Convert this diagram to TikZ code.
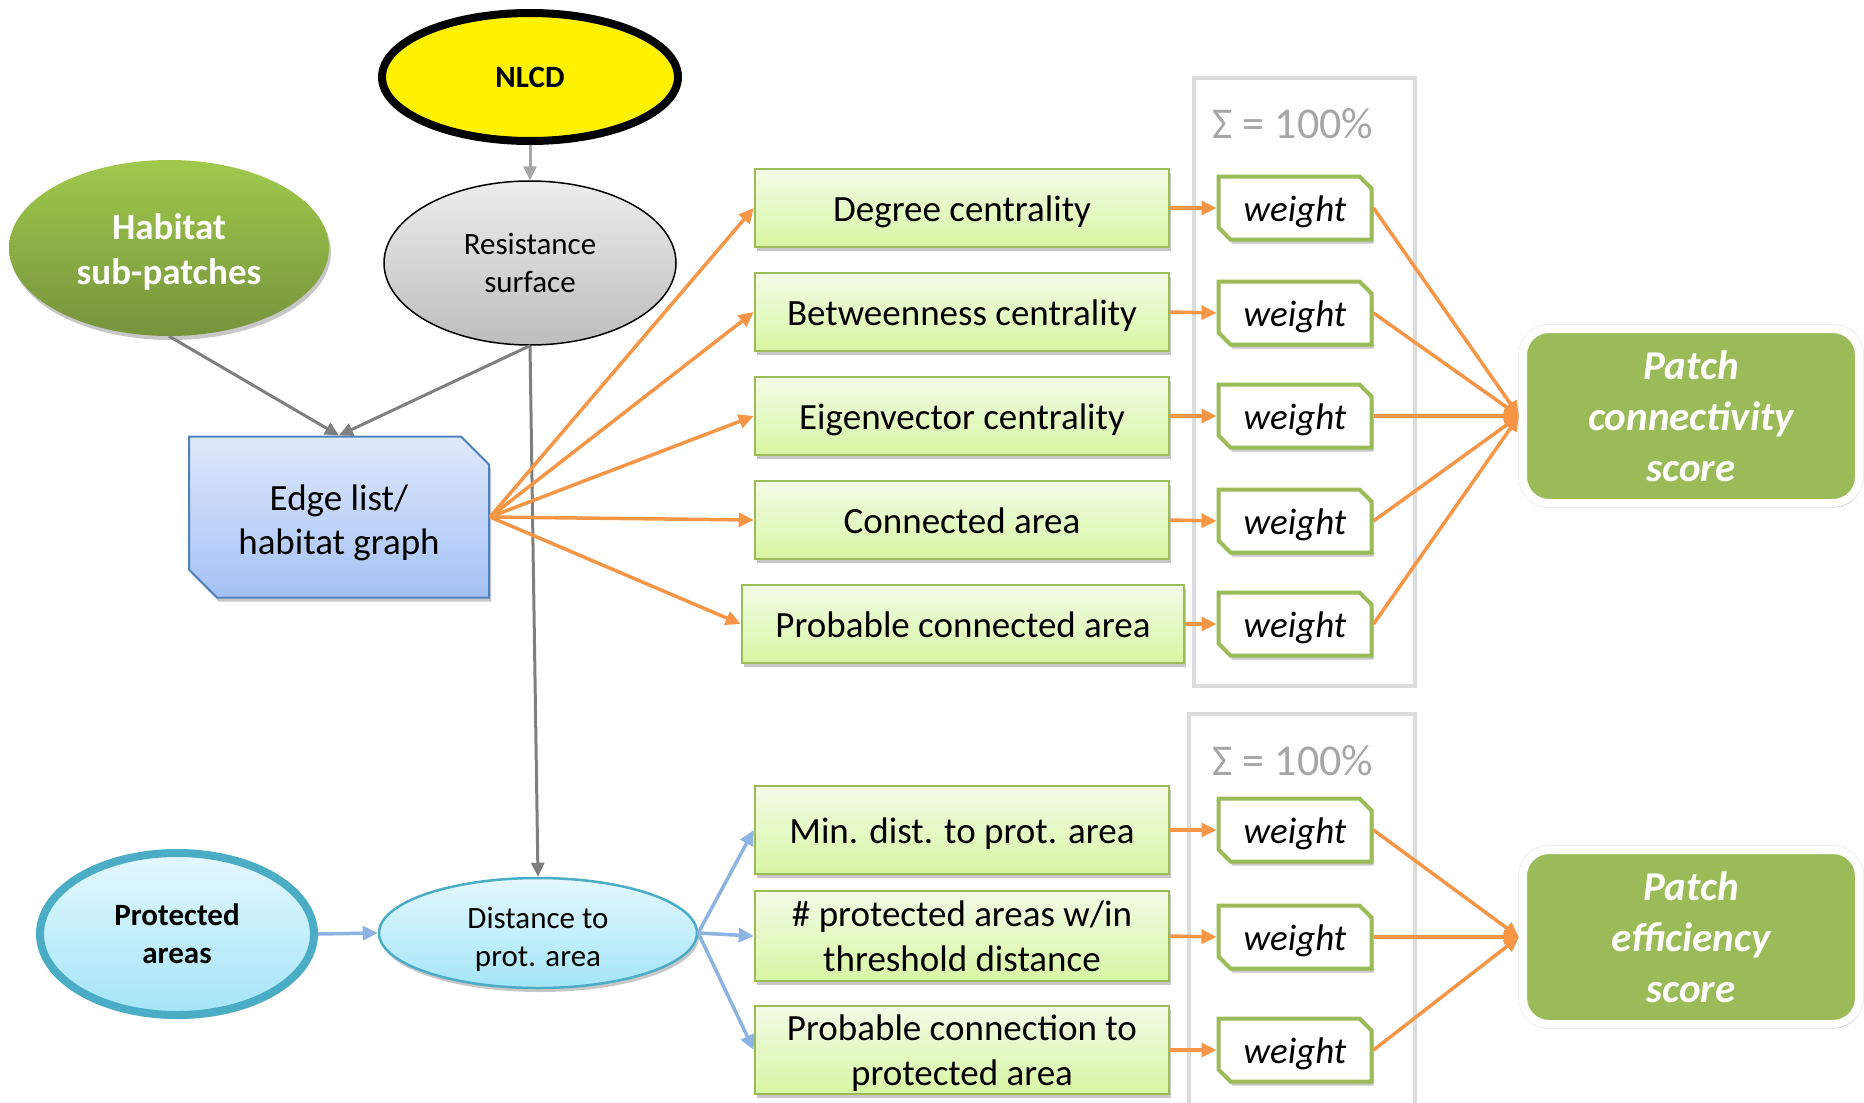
\documentclass[tikz,border=0pt]{standalone}
\usepackage{fontspec}
\setmainfont{Carlito}
\usetikzlibrary{shapes.geometric,shapes.misc,arrows.meta,shadows}

\definecolor{ogreen}{HTML}{9BBB59}
\definecolor{oorange}{HTML}{F79646}
\definecolor{ogray}{HTML}{7F7F7F}
\definecolor{oblue}{HTML}{8DB3E2}
\definecolor{oteal}{HTML}{4BACC6}
\definecolor{oedge}{HTML}{4F81BD}
\definecolor{framegray}{HTML}{DCDCDC}
\definecolor{sigmagray}{HTML}{A6A6A6}
\definecolor{metrictop}{HTML}{F2FBE6}
\definecolor{metricbot}{HTML}{D8F6A4}
\definecolor{edgetop}{HTML}{DFE9FB}
\definecolor{edgebot}{HTML}{A4C1F5}
\definecolor{cyantop}{HTML}{E4F8FE}
\definecolor{cyanbot}{HTML}{A4E5F8}
\definecolor{greytop}{HTML}{EDEDED}
\definecolor{greybot}{HTML}{BDBDBD}
\definecolor{habtop}{HTML}{A0C94C}
\definecolor{habbot}{HTML}{76933C}

% invisible strut that pushes the first text line down a little
\newcommand\firstlinestrut[1]{\rule{0pt}{#1}}

\tikzset{
  softshadow/.style={drop shadow={shadow xshift=2pt, shadow yshift=-4pt, opacity=0.22, fill=black}},
  oneline/.style={text height=30pt, text depth=2.5pt},
  frame/.style={draw=framegray, line width=4pt},
  sigma/.style={text=sigmagray, font=\fontsize{44}{50}\selectfont, inner sep=0pt},
  nlcd/.style={ellipse, draw=black, line width=8pt, fill=yellow, minimum width=296pt, minimum height=128pt,
    inner sep=0pt, font=\fontsize{31}{38}\selectfont\bfseries},
  resist/.style={ellipse, draw=black, line width=1.5pt, top color=greytop, bottom color=greybot,
    minimum width=292pt, minimum height=164pt, inner sep=0pt, align=center, font=\fontsize{31}{38}\selectfont},
  habitat/.style={ellipse, top color=habtop, bottom color=habbot, minimum width=320pt, minimum height=176pt,
    inner sep=0pt, align=center, text=white, font=\fontsize{37}{45}\selectfont\bfseries, softshadow},
  edgelist/.style={chamfered rectangle, chamfered rectangle corners={north east,south west},
    chamfered rectangle xsep=14pt, chamfered rectangle ysep=14pt,
    draw=oedge, line width=2pt, top color=edgetop, bottom color=edgebot,
    minimum width=300pt, minimum height=161pt, inner sep=0pt, align=center,
    font=\fontsize{37}{44}\selectfont, softshadow},
  protected/.style={ellipse, draw=oteal, line width=8pt, top color=cyantop, bottom color=cyanbot,
    minimum width=274pt, minimum height=162pt, inner sep=0pt, align=center,
    font=\fontsize{31}{38}\selectfont\bfseries, softshadow},
  distbox/.style={ellipse, draw=oteal, line width=2.5pt, top color=cyantop, bottom color=cyanbot,
    minimum width=318pt, minimum height=110pt, inner sep=0pt, align=center,
    font=\fontsize{31}{38}\selectfont, softshadow},
  metric/.style={rectangle, draw=ogreen, line width=2.5pt, top color=metrictop, bottom color=metricbot,
    minimum width=414pt, minimum height=78pt, inner sep=0pt, align=center,
    font=\fontsize{37}{45}\selectfont, softshadow},
  weight/.style={chamfered rectangle, chamfered rectangle corners={north east,south west},
    chamfered rectangle xsep=6pt, chamfered rectangle ysep=6pt,
    draw=ogreen, line width=4pt, fill=white, minimum width=153pt, minimum height=63pt, inner sep=0pt,
    font=\fontsize{37}{45}\selectfont\itshape, oneline, softshadow},
  score/.style={rectangle, rounded corners=26pt, draw=white, line width=8pt, fill=ogreen,
    preaction={draw=black!7, line width=10pt},
    minimum width=336pt, minimum height=174pt, inner sep=0pt, align=center, text=white,
    font=\fontsize{41}{51}\selectfont\bfseries\itshape, softshadow},
  orangearrow/.style={draw=oorange, line width=3.5pt, -{Triangle[length=15pt,width=14pt]}},
  grayarrow/.style={draw=ogray, line width=3pt, -{Triangle[length=14pt,width=13pt]}},
  bluearrow/.style={draw=oblue, line width=3.5pt, -{Triangle[length=15pt,width=14pt]}},
}

\begin{document}
\begin{tikzpicture}[x=1pt,y=-1pt]
\useasboundingbox (0,0) rectangle (1864,1103);

% weight frames
\draw[frame] (1194,78) rectangle (1415,686);
\draw[frame] (1189,1103) -- (1189,714) -- (1415,714) -- (1415,1103);
\node[sigma] (sum1) at (1293,124) {Σ = 100\%};
\node[sigma] (sum2) at (1293,761) {Σ = 100\%};

% inputs
\node[nlcd] (nlcd) at (530,77) {NLCD};
\node[resist] (res) at (530,263) {Resistance\\surface};
\node[habitat] (hab) at (169,248) {\firstlinestrut{33pt}Habitat\\sub-patches};
\node[edgelist] (el) at (339,517) {\firstlinestrut{37.5pt}Edge list/\\habitat graph};
\node[protected] (pa) at (177,934) {Protected\\areas};
\node[distbox] (dist) at (538,933) {\firstlinestrut{33pt}Distance to\\prot. area};

% metrics
\node[metric, oneline] (m1) at (962,208) {Degree centrality};
\node[metric, oneline] (m2) at (962,312) {Betweenness centrality};
\node[metric, oneline] (m3) at (962,416) {Eigenvector centrality};
\node[metric, oneline] (m4) at (962,520) {Connected area};
\node[metric, oneline, minimum width=442pt] (m5) at (963,624) {Probable connected area};
\node[metric, oneline, minimum height=88pt] (m6) at (962,830) {Min. dist. to prot. area};
\node[metric, minimum height=90pt] (m7) at (962,936) {\# protected areas w/in\\threshold distance};
\node[metric, minimum height=88pt] (m8) at (962,1050) {\firstlinestrut{32.5pt}Probable connection to\\protected area};

% weights
\node[weight] (w1) at (1295,208) {weight};
\node[weight] (w2) at (1295,313) {weight};
\node[weight] (w3) at (1295,416) {weight};
\node[weight] (w4) at (1295,521) {weight};
\node[weight] (w5) at (1295,624) {weight};
\node[weight] (w6) at (1295,830) {weight};
\node[weight] (w7) at (1295,937) {weight};
\node[weight] (w8) at (1295,1050) {weight};

% scores
\node[score] (pcs) at (1691,416) {Patch\\connectivity\\score};
\node[score] (pes) at (1691,937) {Patch\\efficiency\\score};

% input connectors
\draw[grayarrow, draw=ogray!70] (nlcd.south) -- (res.north);
\draw[grayarrow] (hab.south) -- (el.north);
\draw[grayarrow] (res.south) -- (el.north);
\draw[grayarrow] (res.south) -- (dist.north);
\draw[bluearrow] (pa.east) -- (dist.west);

% graph metrics
\foreach \m in {m1,m2,m3,m4,m5}
  \draw[orangearrow] (el.east) -- (\m.west);
\foreach \m in {m6,m7,m8}
  \draw[bluearrow] (dist.east) -- (\m.west);

% metric to weight
\foreach \i in {1,...,8}
  \draw[orangearrow] (m\i.east) -- (w\i.west);

% weights to scores
\foreach \i in {1,...,5}
  \draw[orangearrow] (w\i.east) -- (pcs.west);
\foreach \i in {6,7,8}
  \draw[orangearrow] (w\i.east) -- (pes.west);
\end{tikzpicture}
\end{document}
